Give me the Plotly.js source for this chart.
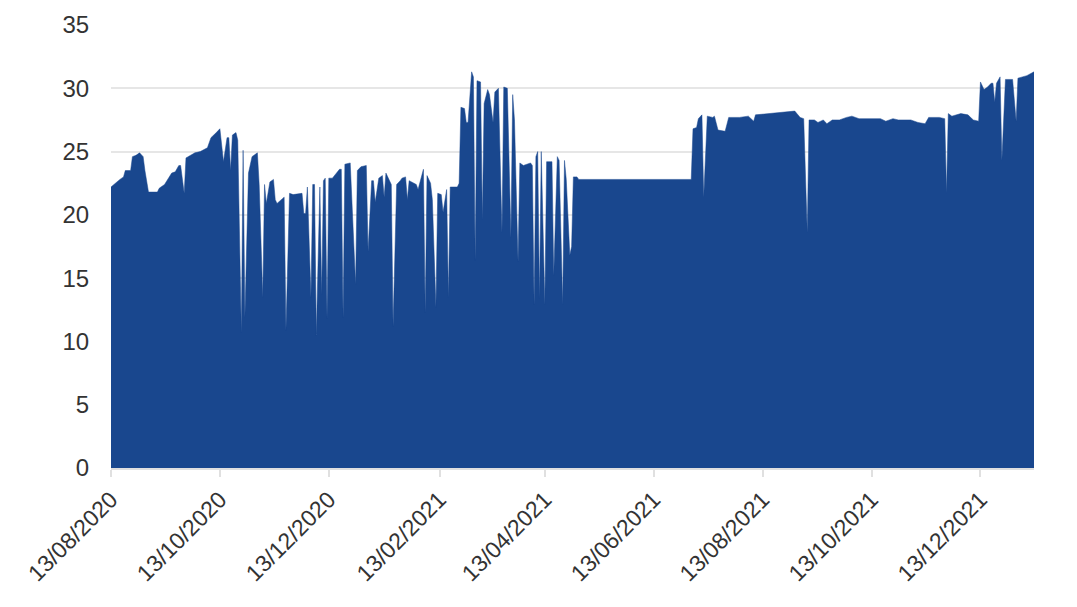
<!DOCTYPE html>
<html>
<head>
<meta charset="utf-8">
<script src="https://cdn.plot.ly/plotly-3.0.1.min.js"></script>
<style>
  html, body { margin: 0; padding: 0; background: #ffffff; }
  #chart { width: 1077px; height: 607px; }
</style>
</head>
<body>
<div id="chart"></div>
<script>
const dates = [
  "2020-08-13","2020-08-16","2020-08-18","2020-08-20","2020-08-21","2020-08-24","2020-08-25","2020-08-27","2020-08-29","2020-08-31",
  "2020-09-01","2020-09-03","2020-09-08","2020-09-09","2020-09-12","2020-09-16","2020-09-18","2020-09-20","2020-09-21","2020-09-23",
  "2020-09-24","2020-09-29","2020-10-02","2020-10-06","2020-10-08","2020-10-11","2020-10-13","2020-10-15","2020-10-17","2020-10-18",
  "2020-10-19","2020-10-20","2020-10-22","2020-10-23","2020-10-25","2020-10-26","2020-10-27","2020-10-29","2020-10-31","2020-11-03",
  "2020-11-04","2020-11-06","2020-11-07","2020-11-08","2020-11-10","2020-11-12","2020-11-13","2020-11-14","2020-11-18","2020-11-19",
  "2020-11-21","2020-11-23","2020-11-28","2020-11-29","2020-11-30","2020-12-01","2020-12-03","2020-12-04","2020-12-05","2020-12-06",
  "2020-12-08","2020-12-09","2020-12-10","2020-12-11","2020-12-12","2020-12-13","2020-12-15","2020-12-19","2020-12-20","2020-12-21",
  "2020-12-22","2020-12-25","2020-12-28","2020-12-29","2020-12-31","2021-01-03","2021-01-04","2021-01-06","2021-01-07","2021-01-08",
  "2021-01-10","2021-01-12","2021-01-13","2021-01-14","2021-01-15","2021-01-17","2021-01-18","2021-01-20","2021-01-22","2021-01-23",
  "2021-01-25","2021-01-26","2021-01-27","2021-01-31","2021-02-01","2021-02-04","2021-02-05","2021-02-06","2021-02-08","2021-02-09",
  "2021-02-11","2021-02-12","2021-02-14","2021-02-15","2021-02-17","2021-02-18","2021-02-19","2021-02-23","2021-02-24","2021-02-25",
  "2021-02-27","2021-02-28","2021-03-01","2021-03-03","2021-03-04","2021-03-05","2021-03-06","2021-03-08","2021-03-09","2021-03-10",
  "2021-03-12","2021-03-13","2021-03-15","2021-03-16","2021-03-18","2021-03-20","2021-03-21","2021-03-23","2021-03-25","2021-03-26",
  "2021-03-27","2021-03-29","2021-03-30","2021-04-01","2021-04-05","2021-04-06","2021-04-07","2021-04-08","2021-04-09","2021-04-10",
  "2021-04-11","2021-04-13","2021-04-14","2021-04-17","2021-04-18","2021-04-20","2021-04-21","2021-04-23","2021-04-24","2021-04-25",
  "2021-04-27","2021-04-28","2021-04-29","2021-05-01","2021-05-02","2021-07-04","2021-07-05","2021-07-07","2021-07-08","2021-07-10",
  "2021-07-11","2021-07-13","2021-07-16","2021-07-17","2021-07-19","2021-07-23","2021-07-25","2021-07-31","2021-08-05","2021-08-08",
  "2021-08-09","2021-08-31","2021-09-03","2021-09-05","2021-09-07","2021-09-08","2021-09-11","2021-09-13","2021-09-16","2021-09-18",
  "2021-09-21","2021-09-25","2021-09-29","2021-10-02","2021-10-06","2021-10-18","2021-10-21","2021-10-25","2021-10-28","2021-11-04",
  "2021-11-08","2021-11-12","2021-11-14","2021-11-20","2021-11-23","2021-11-24","2021-11-25","2021-11-27","2021-12-02","2021-12-06",
  "2021-12-09","2021-12-12","2021-12-13","2021-12-15","2021-12-17","2021-12-19","2021-12-20","2021-12-21","2021-12-22","2021-12-24",
  "2021-12-25","2021-12-27","2021-12-31","2022-01-02","2022-01-03","2022-01-08","2022-01-12"
];
const values = [
  22.2,22.6,22.8,23.0,23.5,23.5,24.6,24.7,24.9,24.6,
  23.5,21.8,21.8,22.1,22.4,23.3,23.4,23.9,23.9,21.7,
  24.5,24.9,25.0,25.3,26.1,26.5,26.8,24.2,26.1,26.1,
  23.5,26.3,26.5,25.9,10.7,25.1,11.9,23.3,24.6,24.9,
  22.4,13.5,22.4,20.9,22.6,22.8,21.2,20.9,21.4,10.9,
  21.7,21.6,21.7,20.1,20.1,22.2,13.5,22.4,22.4,10.5,
  22.2,13.7,22.7,22.9,11.8,22.9,22.9,23.6,23.6,11.9,
  24.0,24.1,14.5,23.5,23.8,23.9,17.1,22.7,22.7,21.0,
  22.9,23.1,21.4,23.3,23.0,22.4,11.2,22.4,22.7,22.9,
  23.0,21.2,22.7,22.4,22.0,23.6,12.3,23.1,22.5,21.2,
  12.7,21.7,21.6,20.2,22.0,13.5,22.2,22.2,22.5,28.5,
  28.4,27.3,27.3,31.3,30.9,16.4,30.6,30.5,19.6,28.8,
  29.9,29.5,27.3,29.7,30.0,18.6,30.1,30.0,18.2,29.5,
  27.5,16.3,24.1,23.9,24.1,23.9,12.9,24.6,25.0,13.4,
  25.0,12.9,24.2,24.2,15.2,24.6,24.3,12.9,24.3,22.8,
  16.8,17.5,23.0,23.0,22.8,22.8,26.8,26.9,27.6,27.9,
  21.4,27.8,27.7,27.8,26.7,26.6,27.7,27.7,27.8,27.4,
  27.9,28.2,27.7,27.6,18.6,27.5,27.5,27.3,27.5,27.2,
  27.5,27.5,27.7,27.8,27.6,27.6,27.4,27.6,27.5,27.5,
  27.3,27.2,27.7,27.7,27.6,21.7,28.0,27.8,28.0,27.9,
  27.5,27.4,30.5,29.9,30.1,30.4,30.4,28.9,30.4,30.9,
  24.3,30.7,30.7,27.4,30.8,31.0,31.3
];
const xTickVals = ["2020-08-13","2020-10-13","2020-12-13","2021-02-13","2021-04-13","2021-06-13","2021-08-13","2021-10-13","2021-12-13"];
const xTickText = ["13/08/2020","13/10/2020","13/12/2020","13/02/2021","13/04/2021","13/06/2021","13/08/2021","13/10/2021","13/12/2021"];
const yTickVals = [0,5,10,15,20,25,30,35];

const fillColor = "#19478e";

Plotly.newPlot("chart", [{
  type: "scatter",
  mode: "lines",
  x: dates,
  y: values,
  fill: "tozeroy",
  fillcolor: fillColor,
  line: { color: fillColor, width: 0.5 },
  hoverinfo: "x+y"
}], {
  width: 1077,
  height: 607,
  margin: { l: 111, r: 43, t: 25, b: 139 },
  paper_bgcolor: "#ffffff",
  plot_bgcolor: "#ffffff",
  showlegend: false,
  font: { family: "Liberation Sans, Arial, sans-serif", color: "#333333" },
  xaxis: {
    type: "date",
    range: ["2020-08-13", "2022-01-12"],
    tickmode: "array",
    tickvals: xTickVals,
    ticktext: xTickText,
    tickangle: -45,
    tickfont: { size: 23, color: "#333333" },
    showgrid: false,
    showline: true,
    linecolor: "#e0e0e0",
    linewidth: 2,
    ticks: "outside",
    ticklen: 7,
    tickwidth: 2,
    tickcolor: "#e0e0e0",
    zeroline: false,
    fixedrange: true
  },
  yaxis: {
    range: [0, 35],
    tickmode: "array",
    tickvals: yTickVals,
    tickfont: { size: 24, color: "#333333" },
    showgrid: true,
    gridcolor: "#e6e6e6",
    gridwidth: 2,
    zeroline: false,
    showline: false,
    ticks: "outside",
    ticklen: 16,
    tickcolor: "rgba(0,0,0,0)",
    fixedrange: true
  }
}, { displayModeBar: false, staticPlot: true });
</script>
</body>
</html>
